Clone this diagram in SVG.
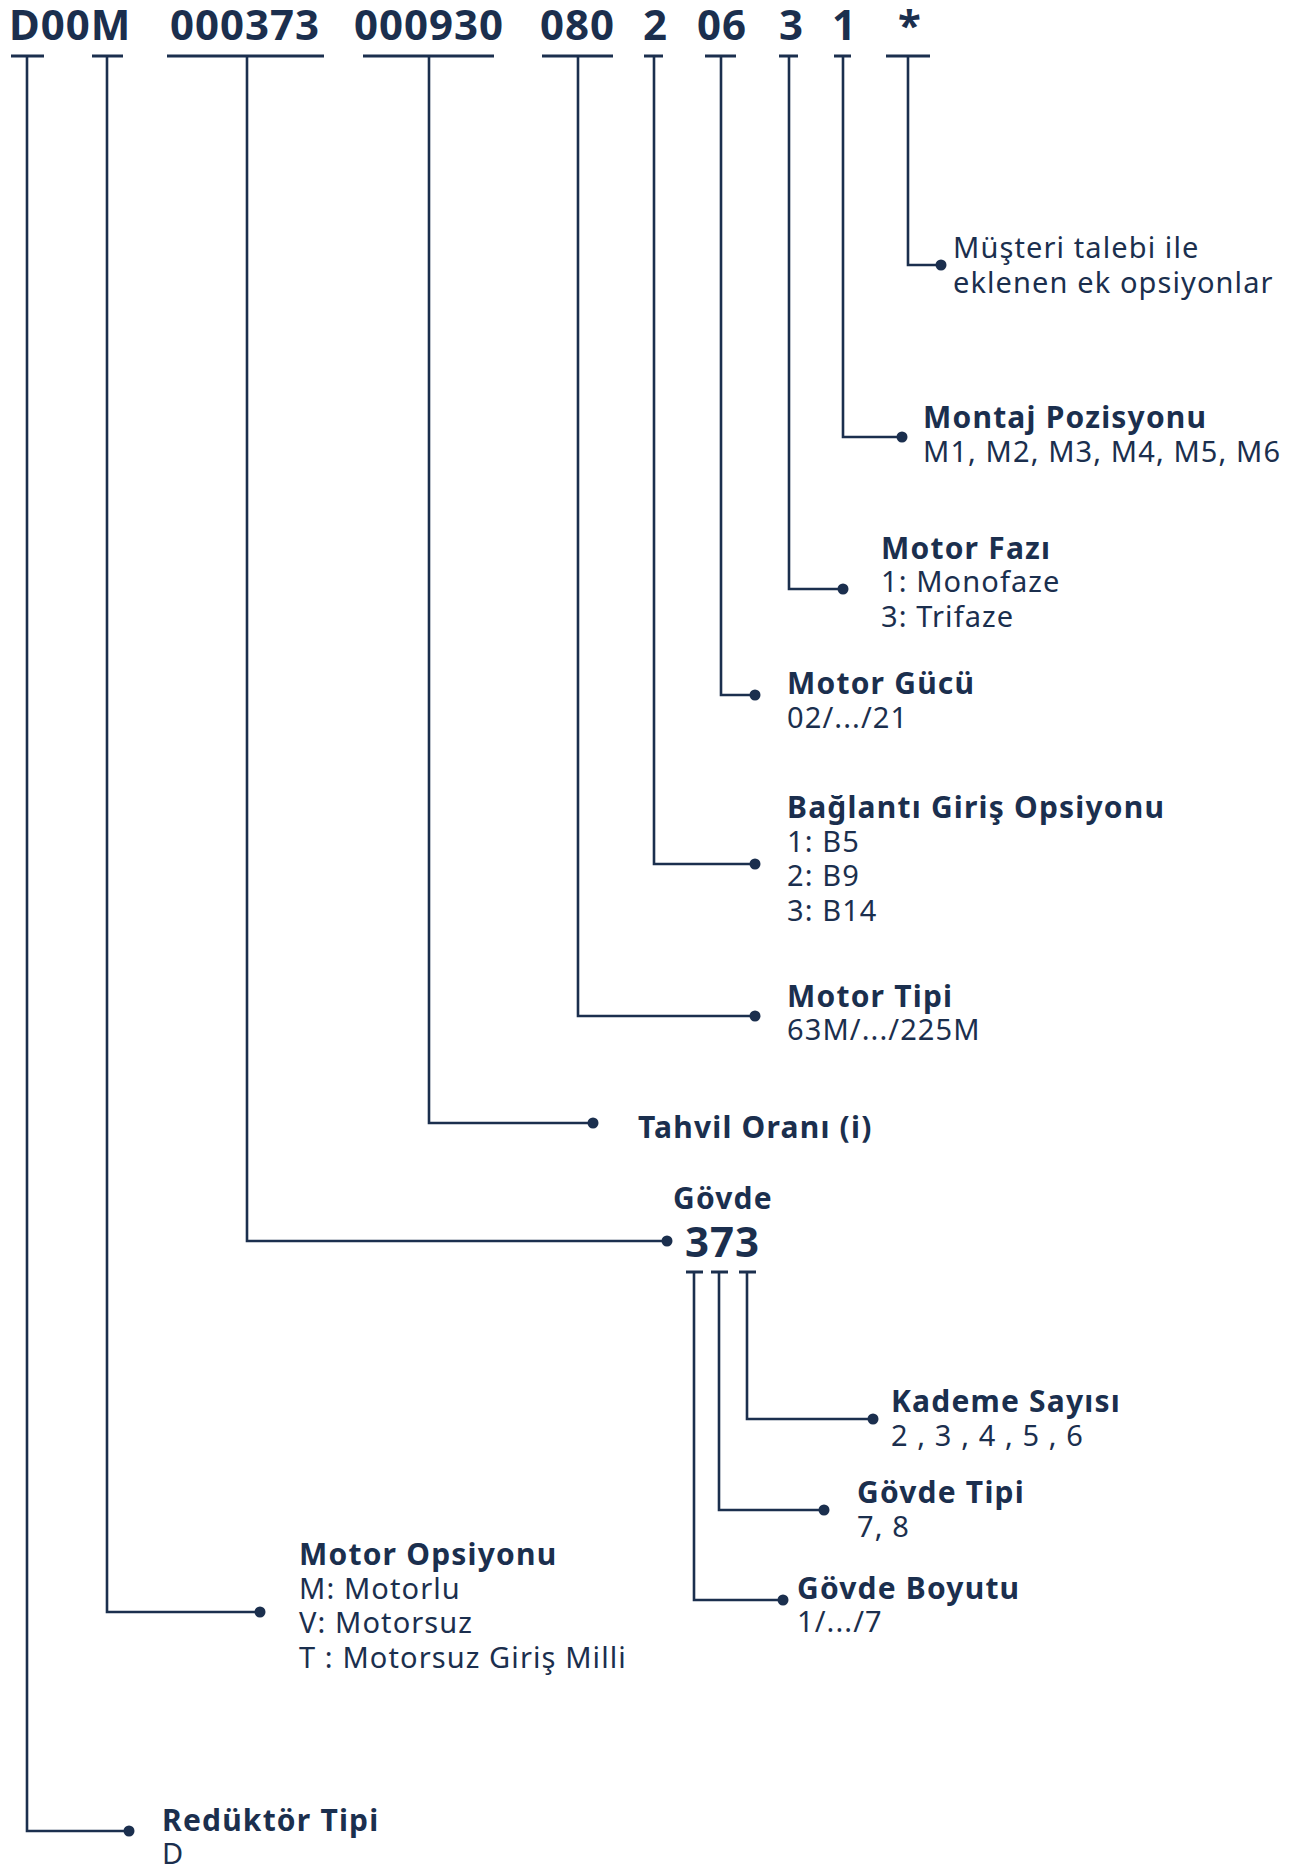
<svg xmlns="http://www.w3.org/2000/svg" width="1296" height="1868" viewBox="0 0 1296 1868">
<style>
.t{font-family:"Noto Sans","Open Sans",sans-serif;fill:#1b2f4e;}
.h{font-size:42px;font-weight:700;letter-spacing:1px;}
.b{font-size:30px;font-weight:700;letter-spacing:1.2px;}
.r{font-size:29px;font-weight:400;letter-spacing:1.1px;}
.ln{stroke:#1b2f4e;stroke-width:2.6;fill:none;}
.bar{stroke:#1b2f4e;stroke-width:3;}
.dot{fill:#1b2f4e;}
</style>
<rect width="1296" height="1868" fill="#ffffff"/>
<g id="code">
<text class="t h" x="9" y="40">D00M</text>
<text class="t h" x="170" y="40">000373</text>
<text class="t h" x="354" y="40">000930</text>
<text class="t h" x="540" y="40">080</text>
<text class="t h" x="643" y="40">2</text>
<text class="t h" x="697" y="40">06</text>
<text class="t h" x="779" y="40">3</text>
<text class="t h" x="832" y="40">1</text>
<text class="t h" x="898" y="40">*</text>
</g>
<g id="bars">
<line class="bar" x1="11" y1="56" x2="44" y2="56"/>
<line class="bar" x1="92" y1="56" x2="123" y2="56"/>
<line class="bar" x1="167" y1="56" x2="324" y2="56"/>
<line class="bar" x1="363" y1="56" x2="494" y2="56"/>
<line class="bar" x1="542" y1="56" x2="613" y2="56"/>
<line class="bar" x1="644" y1="56" x2="663" y2="56"/>
<line class="bar" x1="705" y1="56" x2="736" y2="56"/>
<line class="bar" x1="779" y1="56" x2="798" y2="56"/>
<line class="bar" x1="834" y1="56" x2="851" y2="56"/>
<line class="bar" x1="886" y1="56" x2="930" y2="56"/>
<line class="bar" x1="686" y1="1272" x2="703" y2="1272"/>
<line class="bar" x1="711" y1="1272" x2="728" y2="1272"/>
<line class="bar" x1="739" y1="1272" x2="756" y2="1272"/>
</g>
<g id="connectors">
<polyline class="ln" points="908,56 908,265 941,265"/>
<polyline class="ln" points="843,56 843,437 902,437"/>
<polyline class="ln" points="789,56 789,589 843,589"/>
<polyline class="ln" points="721,56 721,695 755,695"/>
<polyline class="ln" points="654,56 654,864 755,864"/>
<polyline class="ln" points="578,56 578,1016 755,1016"/>
<polyline class="ln" points="429,56 429,1123 593,1123"/>
<polyline class="ln" points="247,56 247,1241 667,1241"/>
<polyline class="ln" points="747,1272 747,1419 873,1419"/>
<polyline class="ln" points="719,1272 719,1510 824,1510"/>
<polyline class="ln" points="694,1272 694,1600 783,1600"/>
<polyline class="ln" points="107,56 107,1612 260,1612"/>
<polyline class="ln" points="27,56 27,1831 129,1831"/>
<circle class="dot" cx="941" cy="265" r="5.5"/>
<circle class="dot" cx="902" cy="437" r="5.5"/>
<circle class="dot" cx="843" cy="589" r="5.5"/>
<circle class="dot" cx="755" cy="695" r="5.5"/>
<circle class="dot" cx="755" cy="864" r="5.5"/>
<circle class="dot" cx="755" cy="1016" r="5.5"/>
<circle class="dot" cx="593" cy="1123" r="5.5"/>
<circle class="dot" cx="667" cy="1241" r="5.5"/>
<circle class="dot" cx="873" cy="1419" r="5.5"/>
<circle class="dot" cx="824" cy="1510" r="5.5"/>
<circle class="dot" cx="783" cy="1600" r="5.5"/>
<circle class="dot" cx="260" cy="1612" r="5.5"/>
<circle class="dot" cx="129" cy="1831" r="5.5"/>
</g>
<g id="musteri">
<text class="t r" x="953" y="258">Müşteri talebi ile</text>
<text class="t r" x="953" y="293">eklenen ek opsiyonlar</text>
</g>
<g id="montaj">
<text class="t b" x="923" y="428">Montaj Pozisyonu</text>
<text class="t r" x="923" y="462">M1, M2, M3, M4, M5, M6</text>
</g>
<g id="faz">
<text class="t b" x="881" y="559">Motor Fazı</text>
<text class="t r" x="881" y="592">1: Monofaze</text>
<text class="t r" x="881" y="627">3: Trifaze</text>
</g>
<g id="guc">
<text class="t b" x="787" y="694">Motor Gücü</text>
<text class="t r" x="787" y="728">02/.../21</text>
</g>
<g id="baglanti">
<text class="t b" x="787" y="818">Bağlantı Giriş Opsiyonu</text>
<text class="t r" x="787" y="852">1: B5</text>
<text class="t r" x="787" y="886">2: B9</text>
<text class="t r" x="787" y="921">3: B14</text>
</g>
<g id="motortipi">
<text class="t b" x="787" y="1007">Motor Tipi</text>
<text class="t r" x="787" y="1040">63M/.../225M</text>
</g>
<g id="tahvil">
<text class="t b" x="638" y="1138">Tahvil Oranı (i)</text>
</g>
<g id="govde">
<text class="t b" x="673" y="1209">Gövde</text>
<text class="t h" x="685" y="1257">373</text>
</g>
<g id="kademe">
<text class="t b" x="891" y="1412">Kademe Sayısı</text>
<text class="t r" x="891" y="1446">2 , 3 , 4 , 5 , 6</text>
</g>
<g id="govdetipi">
<text class="t b" x="857" y="1503">Gövde Tipi</text>
<text class="t r" x="857" y="1537">7, 8</text>
</g>
<g id="govdeboyutu">
<text class="t b" x="797" y="1599">Gövde Boyutu</text>
<text class="t r" x="797" y="1632">1/.../7</text>
</g>
<g id="motoropsiyonu">
<text class="t b" x="299" y="1565">Motor Opsiyonu</text>
<text class="t r" x="299" y="1599">M: Motorlu</text>
<text class="t r" x="299" y="1633">V: Motorsuz</text>
<text class="t r" x="299" y="1668">T : Motorsuz Giriş Milli</text>
</g>
<g id="reduktor">
<text class="t b" x="162" y="1831">Redüktör Tipi</text>
<text class="t r" x="162" y="1864">D</text>
</g>
</svg>
